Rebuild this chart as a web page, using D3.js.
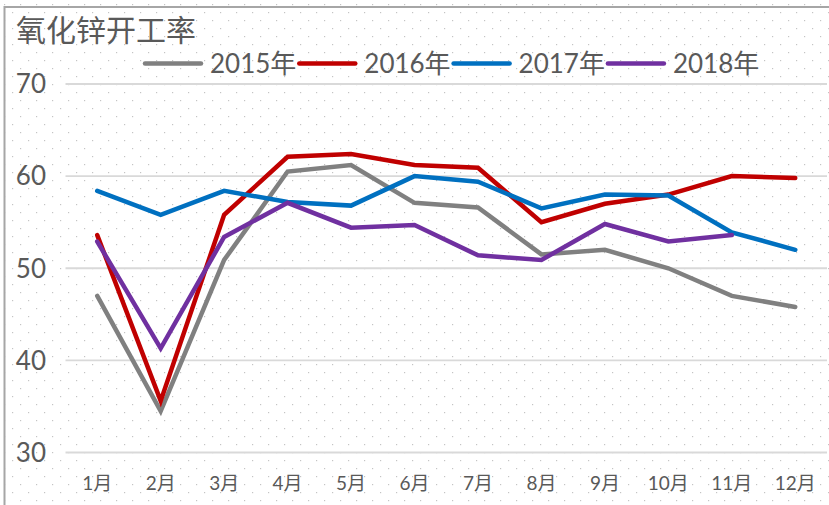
<!DOCTYPE html>
<html>
<head>
<meta charset="utf-8">
<script src="https://cdn.jsdelivr.net/npm/d3@7"></script>
<style>
  body { margin: 0; background: #fff; }
  svg { display: block; }
</style>
</head>
<body>
<div id="chart"></div>
<script>
// data
const months = ["1月", "2月", "3月", "4月", "5月", "6月", "7月", "8月", "9月", "10月", "11月", "12月"];
const years = ["2015年", "2016年", "2017年", "2018年"];
const colors = ["#808080", "#c00000", "#0070c0", "#7030a0"];
const v2015 = [47.0, 34.5, 50.9, 60.5, 61.2, 57.1, 56.6, 51.5, 52.0, 50.0, 47.0, 45.8];
const v2016 = [53.6, 35.6, 55.8, 62.1, 62.4, 61.2, 60.9, 55.0, 57.0, 58.0, 60.0, 59.8];
const v2017 = [58.4, 55.8, 58.4, 57.2, 56.8, 60.0, 59.4, 56.5, 58.0, 57.9, 53.9, 52.0];
const v2018 = [52.9, 41.3, 53.4, 57.1, 54.4, 54.7, 51.4, 50.9, 54.8, 52.9, 53.6, null];
const yTicks = [30, 40, 50, 60, 70];

const series = [v2015, v2016, v2017, v2018];

const width = 829, height = 505;
const font = "Lato, 'Noto Sans CJK SC', sans-serif";
const textColor = "#595959";

const svg = d3.select("#chart").append("svg")
  .attr("width", width)
  .attr("height", height);

// dotted background
const pat = svg.append("defs").append("pattern")
  .attr("id", "dots")
  .attr("patternUnits", "userSpaceOnUse")
  .attr("width", 16)
  .attr("height", 16);
pat.append("rect").attr("x", 4).attr("y", 4).attr("width", 1.2).attr("height", 1.2).attr("fill", "#c4c4c4");
pat.append("rect").attr("x", 12).attr("y", 12).attr("width", 1.2).attr("height", 1.2).attr("fill", "#c4c4c4");

svg.append("rect")
  .attr("width", width).attr("height", height)
  .attr("fill", "url(#dots)");

// chart border (right / bottom fall outside the picture)
svg.append("rect")
  .attr("x", 4.5).attr("y", 7)
  .attr("width", 840).attr("height", 510)
  .attr("fill", "none")
  .attr("stroke", "#a6a6a6")
  .attr("stroke-width", 2);

const x = d3.scaleBand().domain(months).range([65.5, 827]);
const y = d3.scaleLinear().domain([30, 70]).range([452.5, 84]);

// grid lines
svg.append("g")
  .selectAll("line")
  .data(yTicks)
  .join("line")
  .attr("x1", 65.5).attr("x2", 827)
  .attr("y1", d => y(d)).attr("y2", d => y(d))
  .attr("stroke", "#d9d9d9")
  .attr("stroke-width", 1.8);

// y labels
svg.append("g")
  .selectAll("text")
  .data(yTicks)
  .join("text")
  .attr("x", 46)
  .attr("y", d => y(d))
  .attr("dy", "0.36em")
  .attr("text-anchor", "end")
  .attr("fill", textColor)
  .style("font-family", font)
  .style("font-size", "26px")
  .text(d => d);

// x labels
svg.append("g")
  .selectAll("text")
  .data(months)
  .join("text")
  .attr("x", d => x(d) + x.bandwidth() / 2)
  .attr("y", 490)
  .attr("text-anchor", "middle")
  .attr("fill", textColor)
  .style("font-family", font)
  .style("font-size", "19px")
  .text(d => d);

// lines
const line = d3.line()
  .defined(d => d != null)
  .x((d, i) => x(months[i]) + x.bandwidth() / 2)
  .y(d => y(d));

svg.append("g")
  .selectAll("path")
  .data(series)
  .join("path")
  .attr("d", d => line(d))
  .attr("fill", "none")
  .attr("stroke", (d, i) => colors[i])
  .attr("stroke-width", 4.5)
  .attr("stroke-linecap", "round");

// title
svg.append("text")
  .attr("x", 16)
  .attr("y", 41)
  .attr("fill", textColor)
  .style("font-family", font)
  .style("font-size", "30px")
  .text("氧化锌开工率");

// legend
const legend = svg.append("g")
  .selectAll("g")
  .data(years)
  .join("g")
  .attr("transform", (d, i) => `translate(${145 + i * 154.3},63.5)`);

legend.append("line")
  .attr("x1", 0).attr("x2", 56)
  .attr("stroke", (d, i) => colors[i])
  .attr("stroke-width", 4.5)
  .attr("stroke-linecap", "round");

legend.append("text")
  .attr("x", 65)
  .attr("dy", "0.36em")
  .attr("fill", textColor)
  .style("font-family", font)
  .style("font-size", "26px")
  .text(d => d);
</script>
</body>
</html>
